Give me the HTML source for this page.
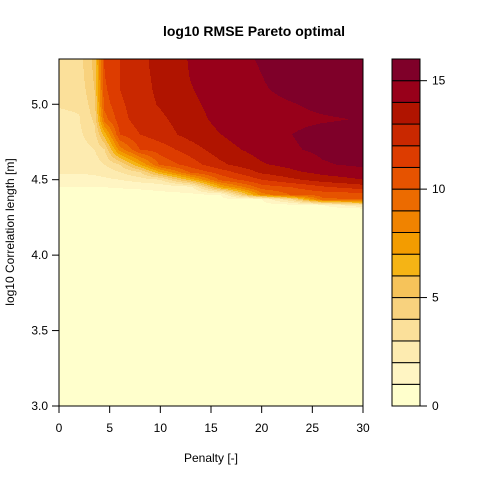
<!DOCTYPE html>
<html><head><meta charset="utf-8">
<style>
body{margin:0;background:#fff;}
svg{display:block;font-family:"Liberation Sans",Arial,sans-serif;}
</style></head>
<body>
<svg id="chart" width="480" height="480" viewBox="0 0 480 480">
<rect width="480" height="480" fill="#fff"/>
<text x="254" y="36" text-anchor="middle" font-size="14" font-weight="bold">log10 RMSE Pareto optimal</text>
<g id="field"></g>
<rect x="59" y="59" width="304" height="347" fill="none" stroke="#000" stroke-width="1"/>
<g id="xaxis"></g>
<g id="yaxis"></g>
<text x="211" y="462" text-anchor="middle" font-size="12">Penalty [-]</text>
<text transform="translate(14,232) rotate(-90)" text-anchor="middle" font-size="12">log10 Correlation length [m]</text>
<g id="legend"></g>
</svg>
<script>
const xVals=[0,2,3.5,4.5,6,8,10,13,16,20,23,26,30];
const yVals=[3.0,4.2,4.3,4.33,4.37,4.4,4.45,4.5,4.55,4.6,4.7,4.8,4.9,5.0,5.1,5.2,5.32];
const zCols=[
[0,0,0.3,0.4,0.55,0.7,1.0,1.6,2.1,2.3,2.5,2.7,2.85,3.05,3.3,3.5,3.6],
[0,0,0.3,0.4,0.55,0.7,1.0,1.6,2.1,2.3,2.6,2.8,2.95,3.1,3.3,3.5,3.6],
[0,0,0.3,0.4,0.55,0.7,1.0,1.7,2.2,2.5,3.0,3.6,4.2,4.6,5.0,5.2,5.3],
[0,0,0.3,0.4,0.55,0.7,1.0,1.8,2.4,3.0,4.0,6.5,9.5,10.5,10.8,11,11.2],
[0,0,0.3,0.4,0.55,0.7,1.05,2.0,3.0,4.0,8.5,11.0,11.6,11.8,12,12,12],
[0,0,0.3,0.4,0.55,0.75,1.1,2.5,4.0,7.0,11.0,12.0,12.5,12.6,12.7,12.8,12.8],
[0,0,0.3,0.4,0.6,0.8,1.2,3.0,7.0,10.2,11.5,12.5,12.8,13.1,13.2,13.2,13.3],
[0,0,0.3,0.4,0.6,0.8,1.6,6.5,10.2,11.5,12.5,13.4,13.6,13.8,13.95,14.05,14.1],
[0,0,0.35,0.5,0.7,1.0,7.0,10.3,11.5,12.8,13.6,14.0,14.3,14.4,14.5,14.55,14.6],
[0,0,0.3,0.6,1.0,8.5,10.5,12.0,13.2,13.9,14.4,14.8,14.6,14.7,14.9,15.0,15.1],
[0,0,0.3,0.6,4.0,10.1,11.0,12.8,13.8,14.3,14.9,15.0,14.8,14.95,15.3,15.5,15.6],
[0,0,0.3,0.9,9.8,10.4,11.8,13.5,14.3,14.9,15.2,15.3,14.9,15.2,15.6,15.7,15.8],
[0,0,0.2,3.0,10.1,10.5,12.5,14.0,14.6,15.2,15.5,15.5,15.05,15.4,15.7,15.8,15.9]
];
const levels=[0,1,2,3,4,5,6,7,8,9,10,11,12,13,14,15,16];
const palette=["#FFFFCC","#FFF5C3","#FDEBB0","#FBE09A","#F8D27E","#F6C35A","#F5B415","#F39C00","#F08300","#EC6B00","#E65300","#DD3C00","#C92800","#B01400","#98001A","#7F0029"];
const xTicks=[0,5,10,15,20,25,30];
const yTicks=[3.0,3.5,4.0,4.5,5.0];
const legendTicks=[0,5,10,15];

const NS="http://www.w3.org/2000/svg";
const PX0=59,PX1=363,PY0=406,PY1=59,XMIN=0,XMAX=30,YMIN=3.0,YMAX=5.3;
const sx=v=>PX0+(v-XMIN)/(XMAX-XMIN)*(PX1-PX0);
const sy=v=>PY0-(v-YMIN)/(YMAX-YMIN)*(PY0-PY1);
const ix=p=>XMIN+(p-PX0)/(PX1-PX0)*(XMAX-XMIN);
const iy=p=>YMIN+(PY0-p)/(PY0-PY1)*(YMAX-YMIN);
function seg(arr,v){let i=0;while(i<arr.length-2&&v>arr[i+1])i++;let t=(v-arr[i])/(arr[i+1]-arr[i]);t=Math.max(0,Math.min(1,t));return [i,t];}
function zAt(x,y){const [i,tx]=seg(xVals,x);const [j,ty]=seg(yVals,y);
const a=zCols[i][j],b=zCols[i+1][j],c=zCols[i][j+1],d=zCols[i+1][j+1];
return a*(1-tx)*(1-ty)+b*tx*(1-ty)+c*(1-tx)*ty+d*tx*ty;}
function band(z){let k=0;while(k<levels.length-2&&z>=levels[k+1])k++;return k;}
const field=document.getElementById('field');
for(let py=PY1;py<PY0;py++){
  const yv=iy(py+0.5);let start=PX0,cur=band(zAt(ix(PX0+0.5),yv));
  for(let px=PX0+1;px<=PX1;px++){
    const b=px<PX1?band(zAt(ix(px+0.5),yv)):-1;
    if(b!==cur){const r=document.createElementNS(NS,'rect');
      r.setAttribute('x',start);r.setAttribute('y',py);r.setAttribute('width',px-start);r.setAttribute('height',1.05);
      r.setAttribute('fill',palette[cur]);
      
      
      field.appendChild(r);start=px;cur=b;}
  }
}
function line(g,x1,y1,x2,y2){const l=document.createElementNS(NS,'line');l.setAttribute('x1',x1);l.setAttribute('y1',y1);l.setAttribute('x2',x2);l.setAttribute('y2',y2);l.setAttribute('stroke','#000');g.appendChild(l);return l;}
function txt(g,x,y,s,anchor){const t=document.createElementNS(NS,'text');t.setAttribute('x',x);t.setAttribute('y',y);t.setAttribute('font-size','12');t.setAttribute('text-anchor',anchor);t.textContent=s;g.appendChild(t);return t;}
const xa=document.getElementById('xaxis');
line(xa,sx(xTicks[0]),PY0,sx(xTicks[xTicks.length-1]),PY0);
xTicks.forEach(v=>{const l=line(xa,sx(v),PY0,sx(v),PY0+7);


const t=txt(xa,sx(v),PY0+26,String(v),'middle');

});
const ya=document.getElementById('yaxis');
yTicks.forEach(v=>{const l=line(ya,PX0-7,sy(v),PX0,sy(v));


const t=txt(ya,48,sy(v)+4,v.toFixed(1),'end');

});
const lg=document.getElementById('legend');
const LX0=392,LX1=420,LY0=406,LY1=59;
const ly=v=>LY0-(v-levels[0])/(levels[levels.length-1]-levels[0])*(LY0-LY1);
for(let k=0;k<levels.length-1;k++){const r=document.createElementNS(NS,'rect');
r.setAttribute('x',LX0);r.setAttribute('y',ly(levels[k+1]));r.setAttribute('width',LX1-LX0);r.setAttribute('height',ly(levels[k])-ly(levels[k+1]));
r.setAttribute('fill',palette[k]);r.setAttribute('stroke','#000');r.setAttribute('stroke-width','1');


lg.appendChild(r);}
legendTicks.forEach(v=>{const l=line(lg,LX1,ly(v),LX1+7,ly(v));


const t=txt(lg,LX1+12,ly(v)+4,String(v),'start');

});
</script>
</body></html>
